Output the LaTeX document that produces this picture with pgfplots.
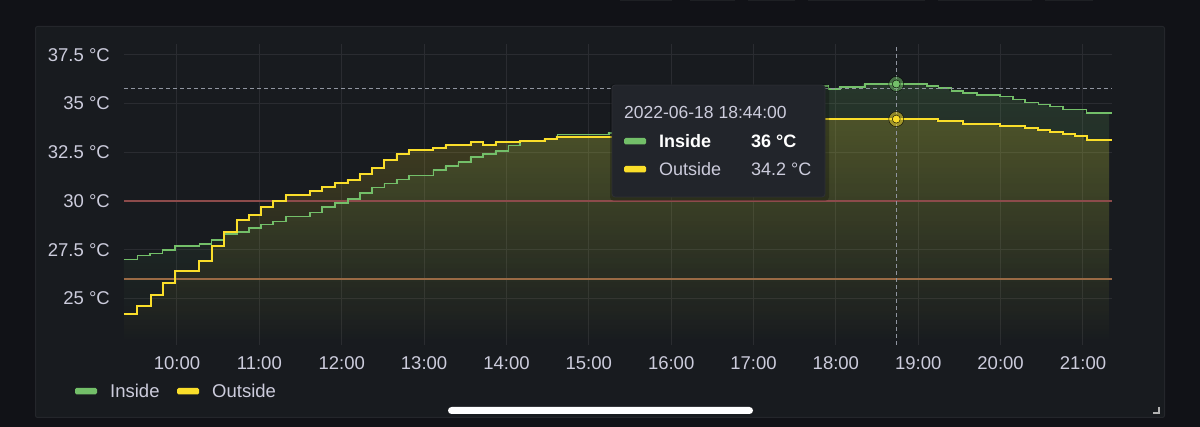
\documentclass[border=0pt]{standalone}
\usepackage{fontspec}
\setmainfont{Liberation Sans}
\usepackage{pgfplots}
\usepackage{pgfplotstable}
\pgfplotsset{compat=1.18}
\usetikzlibrary{fadings}
\definecolor{bgc}{HTML}{111217}
\definecolor{panelc}{HTML}{181B1F}
\definecolor{panelb}{HTML}{24262B}
\definecolor{gridc}{HTML}{2A2C31}
\definecolor{textc}{HTML}{CCCCDC}
\definecolor{greenc}{HTML}{73BF69}
\definecolor{yellowc}{HTML}{FADE2A}
\definecolor{redth}{HTML}{8C4B4B}
\definecolor{orangeth}{HTML}{9A6A45}
\definecolor{crossc}{HTML}{9095A0}
\definecolor{tipc}{HTML}{22252B}
\definecolor{tipb}{HTML}{2E3036}
\definecolor{btnc}{HTML}{1E2024}

\pgfplotstableread{
t T
9.3565 27.0
9.518 27.2
9.672 27.3
9.826 27.5
9.976 27.7
10.271 27.8
10.421 28.0
10.574 28.3
10.725 28.4
10.874 28.6
11.020 28.8
11.169 28.95
11.320 29.2
11.615 29.4
11.764 29.7
11.918 29.9
12.073 30.1
12.222 30.4
12.371 30.7
12.517 30.9
12.668 31.1
12.817 31.3
13.112 31.6
13.263 31.8
13.416 32.0
13.570 32.25
13.719 32.4
13.870 32.55
14.023 32.85
14.165 33.05
14.468 33.2
14.618 33.4
15.245 33.5
15.622 33.8
16.107 34.3
16.593 34.8
17.018 35.3
17.382 35.7
17.625 35.9
17.908 35.75
18.050 35.85
18.354 36.0
19.103 35.9
19.244 35.8
19.406 35.65
19.547 35.55
19.710 35.45
19.993 35.35
20.154 35.2
20.296 35.05
20.458 34.95
20.600 34.85
20.761 34.7
21.045 34.5
21.3526 34.5
}\inside

\pgfplotstableread{
t T
9.3565 24.2
9.518 24.6
9.681 25.2
9.826 25.8
9.976 26.4
10.271 26.9
10.421 27.7
10.574 28.4
10.725 29.0
10.874 29.3
11.020 29.7
11.169 30.0
11.320 30.3
11.615 30.5
11.764 30.7
11.918 30.9
12.073 31.1
12.222 31.4
12.371 31.7
12.517 32.1
12.668 32.4
12.817 32.6
13.112 32.7
13.263 32.85
13.570 33.0
13.719 32.85
13.870 33.0
14.165 33.1
14.468 33.2
14.618 33.3
15.500 33.45
16.107 33.65
16.593 33.85
17.079 34.0
17.443 34.1
17.686 34.2
19.244 34.1
19.547 33.95
19.993 33.85
20.296 33.75
20.458 33.65
20.600 33.55
20.761 33.45
20.903 33.35
21.045 33.15
21.3526 33.15
}\outside

\begin{document}
\begin{tikzpicture}[x=1pt,y=1pt]
\fill[bgc] (0,0) rectangle (1200,-427);
\useasboundingbox (0,0) rectangle (1200,-427);
% top bar button edges
\foreach \a/\b in {620/672,690/735,748/795,808/925,938/1032,1045/1093}
  \fill[btnc] (\a,0) rectangle (\b,-1.2);
% panel
\fill[panelc, draw=panelb, line width=1pt, rounded corners=2pt] (35.5,-26.5) rectangle (1164.5,-417.5);

\begin{axis}[
  at={(124pt,-345pt)}, anchor=south west,
  width=988pt, height=301pt, scale only axis,
  xmin=9.3565, xmax=21.3526, ymin=22.615, ymax=38.05,
  axis line style={draw=none}, major tick length=0pt,
  grid=major, major grid style={color=gridc, line width=1pt},
  xtick={10,11,12,13,14,15,16,17,18,19,20,21},
  xticklabels={10:00,11:00,12:00,13:00,14:00,15:00,16:00,17:00,18:00,19:00,20:00,21:00},
  ytick={25,27.5,30,32.5,35,37.5},
  yticklabels={25 °C,27.5 °C,30 °C,32.5 °C,35 °C,37.5 °C},
  ticklabel style={font=\fontsize{18.5}{20}\selectfont, text=textc},
  xticklabel style={anchor=north, inner sep=0pt, yshift=-11pt},
  yticklabel style={anchor=east, inner sep=0pt, xshift=-14pt},
  clip=true,
]
% fills
\addplot[const plot, draw=none, fill=greenc, fill opacity=0.17, path fading=south]
  table[x=t,y=T] {\inside} -- (axis cs:21.3526,22.615) -- (axis cs:9.3565,22.615) -- cycle;
\addplot[const plot, draw=none, fill=yellowc, fill opacity=0.19, path fading=south]
  table[x=t,y=T] {\outside} -- (axis cs:21.3526,22.615) -- (axis cs:9.3565,22.615) -- cycle;
% thresholds
\addplot[orangeth, line width=1.2pt] coordinates {(9.3565,26) (21.3526,26)};
\addplot[redth, line width=1.2pt] coordinates {(9.3565,30) (21.3526,30)};
% lines
\addplot[const plot, greenc, line width=1.6pt] table[x=t,y=T] {\inside};
\addplot[const plot, yellowc, line width=2pt] table[x=t,y=T] {\outside};
% crosshair
\addplot[crossc, line width=1.1pt, dash pattern=on 4pt off 3pt] coordinates {(9.3565,35.78) (21.3526,35.78)};
\addplot[crossc, line width=1.1pt, dash pattern=on 4pt off 3pt] coordinates {(18.7333,22.615) (18.7333,38.05)};
% hover markers
\addplot[only marks, mark=*, mark size=7.5pt, mark options={draw=none, fill=greenc, fill opacity=0.5}] coordinates {(18.7333,36.0)};
\addplot[only marks, mark=*, mark size=4pt, mark options={draw=none, fill=greenc}] coordinates {(18.7333,36.0)};
\addplot[only marks, mark=*, mark size=7.5pt, mark options={draw=none, fill=yellowc, fill opacity=0.5}] coordinates {(18.7333,34.2)};
\addplot[only marks, mark=*, mark size=4pt, mark options={draw=none, fill=yellowc}] coordinates {(18.7333,34.2)};
\end{axis}

% tooltip
\fill[black, opacity=0.25, rounded corners=4pt] (610,-84) rectangle (829,-201);
\fill[tipc, draw=tipb, line width=0.8pt, rounded corners=3pt] (612,-85) rectangle (825,-197);
\node[anchor=west, inner sep=0pt, text=textc, font=\fontsize{17.5}{20}\selectfont] at (624,-112) {2022-06-18 18:44:00};
\fill[greenc, rounded corners=1.5pt] (624,-138) rectangle (646,-144.5);
\fill[yellowc, rounded corners=1.5pt] (624,-166) rectangle (646,-172.5);
\node[anchor=west, inner sep=0pt, text=white, font=\fontsize{18}{20}\selectfont\bfseries] at (659,-141) {Inside};
\node[anchor=west, inner sep=0pt, text=white, font=\fontsize{18}{20}\selectfont\bfseries] at (751,-141) {36 °C};
\node[anchor=west, inner sep=0pt, text=textc, font=\fontsize{18}{20}\selectfont] at (659,-169) {Outside};
\node[anchor=west, inner sep=0pt, text=textc, font=\fontsize{18}{20}\selectfont] at (751,-169) {34.2 °C};

% legend
\fill[greenc, rounded corners=1.5pt] (75,-388) rectangle (97,-394.5);
\node[anchor=west, inner sep=0pt, text=textc, font=\fontsize{18.5}{20}\selectfont] at (110,-391) {Inside};
\fill[yellowc, rounded corners=1.5pt] (177,-388) rectangle (199,-394.5);
\node[anchor=west, inner sep=0pt, text=textc, font=\fontsize{18.5}{20}\selectfont] at (212,-391) {Outside};

% home indicator
\fill[white, rounded corners=3.5pt] (448,-407) rectangle (753,-414);
% resize corner
\draw[gray!60, line width=1.8pt] (1159,-407) -- (1159,-413) -- (1153,-413);
\end{tikzpicture}
\end{document}
